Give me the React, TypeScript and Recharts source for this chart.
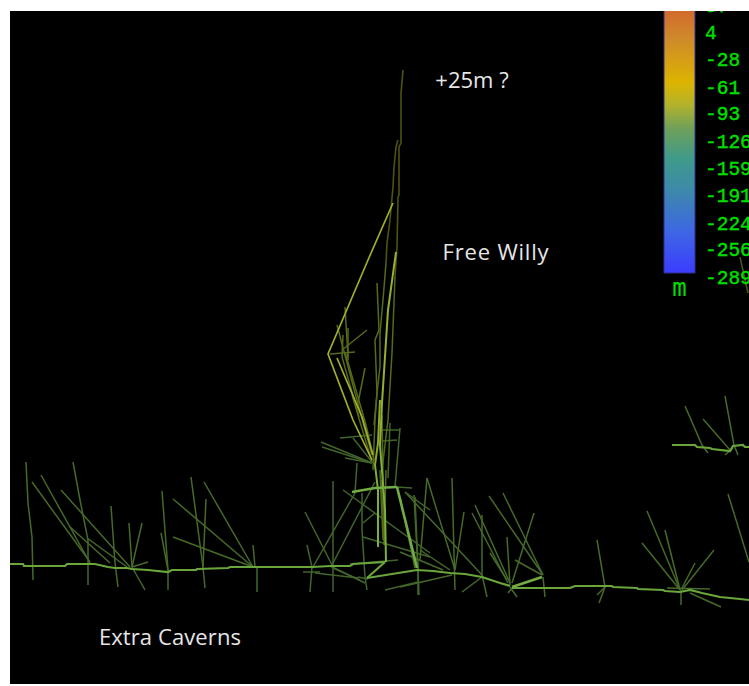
import { Bar, BarChart, ComposedChart, Line, ReferenceDot, XAxis, YAxis } from "recharts";

type Pt = [number, number];
type Path = Pt[];

// survey traces: [distance along section, depth down the view]
const mainPassage: Path[] = [
  [[10, 564], [23, 564], [24, 566], [65, 566], [67, 564], [95, 564], [108, 567], [115, 568], [127, 568], [132, 569], [148, 570], [168, 572], [172, 570], [196, 570], [197, 569], [228, 568], [230, 567], [253, 567], [313, 567], [330, 566], [350, 566], [353, 564], [385, 562]],
  [[367, 578], [417, 570], [433, 571], [450, 573], [465, 574], [482, 577], [500, 583], [510, 586]],
  [[512, 588], [570, 588], [575, 586], [612, 586], [613, 587], [637, 588], [638, 589], [663, 590], [665, 591], [680, 592], [690, 590], [702, 593], [720, 597], [740, 599], [749, 600]],
  [[672, 445], [695, 445], [697, 447], [710, 448], [712, 449], [730, 451], [733, 446], [743, 445], [745, 447], [749, 447]],
  [[367, 578], [385, 562]],
];
const thickLinks: Path[] = [
  [[512, 587], [542, 577]],
  [[397, 487], [417, 568]],
  [[352, 492], [375, 488], [397, 487]],
];
const shaftBright: Path[] = [
  [[396, 252], [388, 310], [382, 403]],
  [[382, 403], [380, 445]],
];
const shaftBrightLower: Path[] = [
  [[380, 445], [385, 510], [386, 562]],
  [[375, 465], [378, 490], [378, 547]],
];
const shaftBrightUpper: Path[] = [[[380, 400], [378, 443], [375, 465]]];
const diamond: Path[] = [
  [[393, 203], [368, 260], [328, 354], [353, 420], [372, 460]],
  [[337, 358], [362, 417], [373, 455]],
];
const shaftDark: Path[] = [
  [[403, 70], [401, 93], [401, 143], [399, 147], [399, 195], [398, 197], [397, 247], [395, 277]],
  [[398, 140], [396, 147], [394, 167], [393, 187], [390, 220], [387, 243], [386, 263]],
  [[740, 257], [748, 293]],
];
const shaftMid: Path[] = [
  [[395, 277], [392, 353], [388, 420], [382, 470]],
  [[386, 263], [383, 300], [380, 333], [380, 367], [377, 393], [375, 420], [373, 470]],
  [[377, 283], [379, 330], [375, 340], [377, 393], [374, 425]],
  [[345, 307], [348, 357]],
  [[337, 325], [355, 393], [372, 455]],
  [[367, 330], [342, 350]],
  [[355, 352], [330, 354]],
  [[348, 328], [348, 360]],
  [[365, 368], [358, 403]],
  [[343, 335], [342, 357], [359, 417]],
  [[345, 352], [366, 425], [374, 460]],
  [[352, 395], [372, 462]],
  [[382, 415], [384, 545]],
  [[380, 470], [383, 540]],
  [[386, 470], [384, 540]],
  [[381, 480], [385, 545]],
];
const hubSplays: Path[] = [
  [[321, 442], [372, 463]],
  [[322, 447], [372, 463]],
  [[345, 458], [372, 463]],
  [[340, 438], [372, 435]],
  [[353, 438], [372, 462]],
  [[390, 423], [388, 478]],
  [[400, 428], [395, 487]],
  [[380, 430], [400, 430]],
  [[383, 441], [397, 440]],
  [[397, 487], [412, 488]],
  [[357, 463], [355, 493], [313, 567]],
  [[362, 493], [362, 530], [365, 577], [367, 590]],
  [[375, 482], [332, 565]],
  [[343, 490], [430, 553]],
  [[405, 492], [430, 510]],
  [[415, 497], [418, 568], [419, 595]],
  [[363, 537], [430, 557]],
  [[363, 523], [375, 513]],
  [[333, 481], [333, 592]],
  [[305, 512], [332, 565]],
  [[307, 545], [312, 567], [310, 592]],
  [[330, 566], [365, 583]],
  [[333, 568], [360, 580]],
  [[315, 573], [358, 578]],
  [[303, 572], [320, 572]],
  [[350, 564], [398, 560]],
  [[385, 590], [418, 582]],
  [[358, 577], [368, 579]],
];
const westSplays: Path[] = [
  [[26, 462], [28, 503], [32, 537], [33, 580]],
  [[32, 482], [90, 562]],
  [[41, 475], [90, 563]],
  [[73, 462], [80, 500], [88, 540], [88, 585]],
  [[61, 490], [130, 567]],
  [[70, 527], [110, 563]],
  [[87, 538], [127, 567]],
  [[111, 506], [115, 563], [118, 587]],
  [[129, 523], [132, 567]],
  [[142, 523], [132, 567]],
  [[132, 567], [145, 590]],
  [[148, 562], [132, 567]],
  [[162, 491], [168, 570], [168, 590]],
  [[161, 533], [168, 570]],
  [[191, 477], [203, 567], [205, 588]],
  [[206, 499], [203, 567]],
  [[173, 499], [253, 567]],
  [[173, 537], [253, 567]],
  [[204, 482], [253, 567]],
  [[253, 545], [255, 567]],
  [[257, 567], [257, 592]],
];
const eastSplays: Path[] = [
  [[400, 497], [415, 568]],
  [[414, 495], [418, 570]],
  [[427, 478], [420, 560]],
  [[427, 478], [455, 570]],
  [[452, 478], [455, 590]],
  [[464, 512], [455, 570]],
  [[405, 492], [482, 575]],
  [[418, 570], [418, 595]],
  [[400, 587], [452, 575]],
  [[420, 550], [450, 570]],
  [[400, 552], [443, 570]],
  [[482, 515], [482, 575], [487, 597]],
  [[462, 592], [482, 577]],
  [[475, 505], [510, 583]],
  [[472, 513], [508, 583]],
  [[507, 537], [510, 585]],
  [[490, 553], [507, 580]],
  [[489, 496], [543, 575]],
  [[503, 493], [543, 575]],
  [[534, 513], [512, 583]],
  [[515, 560], [542, 575]],
  [[543, 577], [545, 597]],
  [[508, 593], [513, 587]],
  [[517, 597], [510, 587]],
  [[597, 540], [605, 587]],
  [[605, 587], [599, 603]],
  [[597, 595], [605, 587]],
  [[647, 511], [680, 590]],
  [[665, 530], [680, 590]],
  [[642, 543], [680, 590]],
  [[714, 550], [682, 590]],
  [[695, 563], [682, 588]],
  [[681, 590], [681, 605]],
  [[690, 593], [721, 607]],
  [[667, 588], [710, 589]],
  [[685, 406], [702, 445], [708, 453]],
  [[703, 419], [730, 450]],
  [[725, 396], [734, 445], [738, 455]],
  [[725, 455], [733, 448]],
  [[728, 494], [749, 562]],
];

const notes: { x: number; y: number; text: string; spacing: number }[] = [
  { x: 472, y: 80, text: "+25m ?", spacing: 0 },
  { x: 496, y: 252, text: "Free Willy", spacing: 0.8 },
  { x: 170, y: 637, text: "Extra Caverns", spacing: 0.1 },
];

const scaleTicks = [37, 4, -28, -61, -93, -126, -159, -191, -224, -256, -289];
const scaleData = [{ unit: "m", range: [-289, 37] }];
const scaleStops: [string, string][] = [
  ["0%", "#d45f2e"],
  ["14%", "#cf8a2a"],
  ["30%", "#dcb400"],
  ["38%", "#b3b32a"],
  ["47%", "#6ea05a"],
  ["58%", "#3f9a8a"],
  ["69%", "#3d8aa8"],
  ["85%", "#3d66e4"],
  ["100%", "#3c3cff"],
];

const traceGroups: { paths: Path[]; color: string; width: number }[] = [
  { paths: shaftDark, color: "#4f5210", width: 1.6 },
  { paths: westSplays, color: "#466a28", width: 1.5 },
  { paths: eastSplays, color: "#466a28", width: 1.5 },
  { paths: hubSplays, color: "#41652a", width: 1.5 },
  { paths: shaftMid, color: "#566a1a", width: 1.5 },
  { paths: shaftBrightUpper, color: "#8ea82c", width: 2 },
  { paths: diamond, color: "#a2ad2a", width: 1.7 },
  { paths: shaftBright, color: "#96b032", width: 2 },
  { paths: shaftBrightLower, color: "#7cb03e", width: 2 },
  { paths: mainPassage, color: "#6aa63c", width: 2.2 },
  { paths: thickLinks, color: "#72ac44", width: 2.6 },
];

const toRows = (p: Path) => p.map(([x, y]) => ({ x, y }));

export default function App() {
  return (
    <div style={{ position: "absolute", left: 0, top: 0, width: 749, height: 686, background: "#fff", overflow: "hidden" }}>
      <div style={{ position: "absolute", left: 10, top: 11, width: 739, height: 673, background: "#000", overflow: "hidden" }}>
        <ComposedChart width={739} height={673} margin={{ top: 0, right: 0, bottom: 0, left: 0 }}>
          <XAxis type="number" dataKey="x" domain={[10, 749]} hide allowDataOverflow />
          <YAxis type="number" domain={[11, 684]} reversed hide allowDataOverflow />
          {traceGroups.flatMap((g, i) =>
            g.paths.map((p, j) => (
              <Line
                key={`${i}-${j}`}
                data={toRows(p)}
                dataKey="y"
                stroke={g.color}
                strokeWidth={g.width}
                dot={false}
                legendType="none"
                isAnimationActive={false}
              />
            )),
          )}
          {notes.map((n) => (
            <ReferenceDot
              key={n.text}
              x={n.x}
              y={n.y}
              r={0}
              stroke="none"
              label={{
                value: n.text,
                position: "center",
                fill: "#e6e6e6",
                fontSize: 22,
                fontFamily: "Open Sans",
                letterSpacing: n.spacing,
              }}
            />
          ))}
        </ComposedChart>

        {/* colour scale, sits over the traces */}
        <div style={{ position: "absolute", left: 650, top: -10 }}>
          <BarChart
            width={89}
            height={310}
            data={scaleData}
            barSize={31}
            barCategoryGap={0}
            margin={{ top: 0, right: 0, bottom: 0, left: 0 }}
          >
            <defs>
              <linearGradient id="depthScale" x1="0" y1="0" x2="0" y2="1">
                {scaleStops.map(([offset, color]) => (
                  <stop key={offset} offset={offset} stopColor={color} />
                ))}
              </linearGradient>
            </defs>
            <XAxis
              dataKey="unit"
              axisLine={false}
              tickLine={false}
              height={38}
              tick={{ fill: "#00e000", fontSize: 24, fontFamily: "DejaVu Sans Mono", dy: -2 }}
            />
            <YAxis
              orientation="right"
              type="number"
              domain={[-289, 37]}
              ticks={scaleTicks}
              interval={0}
              axisLine={false}
              tickLine={false}
              tickSize={0}
              width={50}
              tickMargin={6}
              tick={{
                fill: "#00e000",
                stroke: "#00e000",
                strokeWidth: 0.4,
                fontSize: 19.5,
                fontFamily: "Liberation Mono",
                textAnchor: "start",
                dy: 4,
              }}
            />
            <Bar dataKey="range" fill="url(#depthScale)" stroke="#30308c" isAnimationActive={false} />
          </BarChart>
        </div>
      </div>
    </div>
  );
}
